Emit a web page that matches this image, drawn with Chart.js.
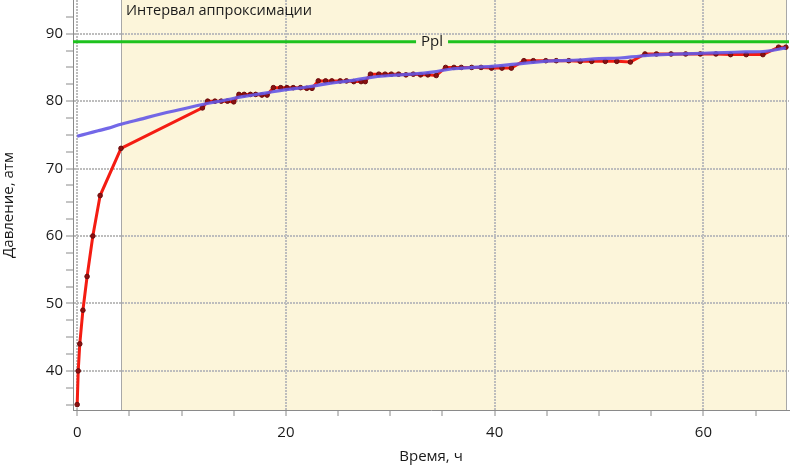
<!DOCTYPE html>
<html>
<head>
<meta charset="utf-8">
<script src="https://cdn.jsdelivr.net/npm/chart.js@4"></script>
<style>
    html, body { margin: 0; padding: 0; background: #fff; }
    #wrap { width: 791px; height: 466px; }
</style>
</head>
<body>
<div id="wrap"><canvas id="pressureChart"></canvas></div>
<script>
// замеры давления (время, ч / давление, атм)
const measTime = [0, 0.1, 0.25, 0.55, 0.95, 1.5, 2.2, 4.2, 12.0,
    12.5, 13.2, 13.8, 14.4, 15.0,
    15.5, 16.0, 16.6, 17.1, 17.7, 18.2,
    18.8, 19.5, 20.1, 20.7, 21.4, 22.0, 22.5,
    23.1, 23.8, 24.4, 25.2, 25.8, 26.5, 27.2, 27.6,
    28.1, 28.9, 29.5, 30.1, 30.8, 31.5, 32.2, 32.9, 33.6, 34.4,
    35.3, 36.1, 36.8, 37.8, 38.7, 39.7, 40.7, 41.6,
    42.8, 43.7, 44.9, 45.9, 47.1, 48.2, 49.3, 50.6, 51.7, 53.0,
    54.4, 55.5, 56.9, 58.3, 59.7, 61.2, 62.6, 64.1, 65.7,
    67.2, 67.9];
const measPressure = [35, 40, 44, 49, 54, 60, 66, 73, 79,
    80, 80, 80, 80, 79.9,
    81, 81, 81, 81, 80.9, 80.9,
    82, 82, 82, 82, 82, 81.9, 81.9,
    83, 83, 83, 83, 83, 82.9, 82.9, 82.9,
    84, 84, 84, 84, 84, 83.9, 84, 83.9, 83.9, 83.8,
    85, 85, 85, 85, 85, 84.9, 84.9, 84.9,
    86, 86, 86, 86, 86, 85.9, 85.9, 85.9, 85.9, 85.8,
    87, 87, 87, 87, 87, 87, 86.9, 86.9, 86.9,
    88, 88];

// аппроксимация
const fitTime = [0, 1, 2, 3, 4, 5, 6, 8, 10, 12, 14, 16, 18, 20, 22, 24, 26, 28, 30,
    32, 34, 36, 38, 40, 42, 44, 46, 48, 50, 52, 54, 56, 58, 60, 62, 64, 66, 67.9];
const fitPressure = [74.8, 75.2, 75.6, 76.0, 76.5, 76.9, 77.3, 78.1, 78.8, 79.5, 80.1, 80.7, 81.2,
    81.7, 82.1, 82.6, 83.0, 83.5, 83.8, 84.0, 84.3, 84.8, 85.0, 85.2, 85.5, 85.8, 86.0,
    86.1, 86.3, 86.4, 86.7, 86.9, 87.0, 87.1, 87.2, 87.3, 87.4, 87.9];

const pplValue = 88.8;
const pplLabelAt = 34;
const approxStart = 4.2;
const approxEnd = 68.0;

const xTicks = [0, 5, 10, 15, 20, 25, 30, 35, 40, 45, 50, 55, 60, 65];
const xLabels = [0, 20, 40, 60];
const yTicks = [35, 37.5, 40, 42.5, 45, 47.5, 50, 52.5, 55, 57.5, 60, 62.5, 65, 67.5,
    70, 72.5, 75, 77.5, 80, 82.5, 85, 87.5, 90, 92.5];
const yLabels = [40, 50, 60, 70, 80, 90];

const FONT = '"Open Sans", "DejaVu Sans", sans-serif';
const fillColor = '#fcf5da';
const gridColor = '#bdbdbd';
const axisColor = '#8a8a8a';

const intervalPlugin = {
    id: 'interval',
    beforeDraw(chart) {
        const { ctx, chartArea: a, scales: { x } } = chart;
        const x0 = x.getPixelForValue(approxStart);
        const x1 = Math.min(x.getPixelForValue(approxEnd), a.right);
        ctx.save();
        ctx.fillStyle = fillColor;
        ctx.fillRect(x0, a.top, x1 - x0, a.bottom - a.top);
        ctx.restore();
    },
    beforeDatasetsDraw(chart) {
        const { ctx, chartArea: a, scales: { x, y } } = chart;
        const x0 = x.getPixelForValue(approxStart);
        const x1 = Math.min(x.getPixelForValue(approxEnd), a.right);
        ctx.save();
        ctx.strokeStyle = '#a8a8a8';
        ctx.lineWidth = 1;
        ctx.beginPath();
        ctx.moveTo(Math.round(x0) + 0.5, a.top);
        ctx.lineTo(Math.round(x0) + 0.5, a.bottom);
        ctx.moveTo(Math.round(x1) - 0.5, a.top);
        ctx.lineTo(Math.round(x1) - 0.5, a.bottom);
        ctx.stroke();

        ctx.fillStyle = '#1a1a1a';
        ctx.font = '14.5px ' + FONT;
        ctx.textBaseline = 'top';
        ctx.fillText('Интервал аппроксимации', x0 + 5, 4);

        // линия Ppl
        const yp = y.getPixelForValue(pplValue);
        ctx.strokeStyle = '#1ec21e';
        ctx.lineWidth = 3;
        ctx.beginPath();
        ctx.moveTo(a.left, yp);
        ctx.lineTo(a.right, yp);
        ctx.stroke();

        ctx.font = '15px ' + FONT;
        const lx = x.getPixelForValue(pplLabelAt);
        const tw = ctx.measureText('Ppl').width;
        ctx.fillStyle = fillColor;
        ctx.fillRect(lx - tw / 2 - 5, yp - 3, tw + 10, 6);
        ctx.fillStyle = '#1a1a1a';
        ctx.textAlign = 'center';
        ctx.textBaseline = 'middle';
        ctx.fillText('Ppl', lx, yp);
        ctx.restore();
    }
};

const ctx = document.getElementById('pressureChart').getContext('2d');
const pressureChart = new Chart(ctx, {
    type: 'line',
    data: {
        datasets: [{
            label: 'Аппроксимация',
            data: fitTime.map((t, i) => ({ x: t, y: fitPressure[i] })),
            borderColor: 'rgba(100, 88, 230, 0.9)',
            borderWidth: 3.2,
            pointRadius: 0,
            tension: 0.4,
            order: 0
        }, {
            label: 'Давление',
            data: measTime.map((t, i) => ({ x: t, y: measPressure[i] })),
            borderColor: '#f41c12',
            borderWidth: 3,
            pointRadius: 2.3,
            pointBackgroundColor: '#8a1010',
            pointBorderColor: '#6a0c0c',
            pointBorderWidth: 1,
            tension: 0,
            order: 1
        }]
    },
    options: {
        responsive: true,
        maintainAspectRatio: false,
        animation: false,
        layout: { autoPadding: false, padding: { top: 0, right: 2, bottom: 0, left: 0 } },
        plugins: {
            legend: { display: false },
            tooltip: { enabled: false }
        },
        scales: {
            x: {
                type: 'linear',
                min: -0.4,
                max: 68.2,
                afterBuildTicks: s => { s.ticks = xTicks.map(v => ({ value: v })); },
                afterFit: s => { s.height = 56; s.paddingLeft = 0; s.paddingRight = 0; },
                ticks: {
                    autoSkip: false,
                    maxRotation: 0,
                    padding: 8,
                    color: '#1a1a1a',
                    font: { family: FONT, size: 15 },
                    callback: v => xLabels.includes(v) ? v : ''
                },
                grid: {
                    color: c => (c.tick && xLabels.includes(c.tick.value)) ? gridColor : 'rgba(0,0,0,0)',
                    lineWidth: 2,
                    tickColor: axisColor,
                    tickLength: 6,
                    tickWidth: 1
                },
                border: { color: axisColor, width: 1, dash: [2, 1] },
                title: {
                    display: true,
                    text: 'Время, ч',
                    color: '#1a1a1a',
                    font: { family: FONT, size: 15 },
                    padding: { top: 2, bottom: 0 }
                }
            },
            y: {
                type: 'linear',
                min: 34.2,
                max: 95,
                afterBuildTicks: s => { s.ticks = yTicks.map(v => ({ value: v })); },
                afterFit: s => { s.width = 73; s.paddingTop = 0; s.paddingBottom = 0; },
                ticks: {
                    autoSkip: false,
                    padding: 3,
                    color: '#1a1a1a',
                    font: { family: FONT, size: 15 },
                    callback: v => yLabels.includes(v) ? v : ''
                },
                grid: {
                    color: c => (c.tick && yLabels.includes(c.tick.value)) ? gridColor : 'rgba(0,0,0,0)',
                    lineWidth: 2,
                    tickColor: axisColor,
                    tickLength: 7,
                    tickWidth: 1
                },
                border: { color: axisColor, width: 1, dash: [2, 1] },
                title: {
                    display: true,
                    text: 'Давление, атм',
                    color: '#1a1a1a',
                    font: { family: FONT, size: 15 },
                    padding: { top: 0, bottom: 0 }
                }
            }
        }
    },
    plugins: [intervalPlugin]
});
</script>
</body>
</html>
